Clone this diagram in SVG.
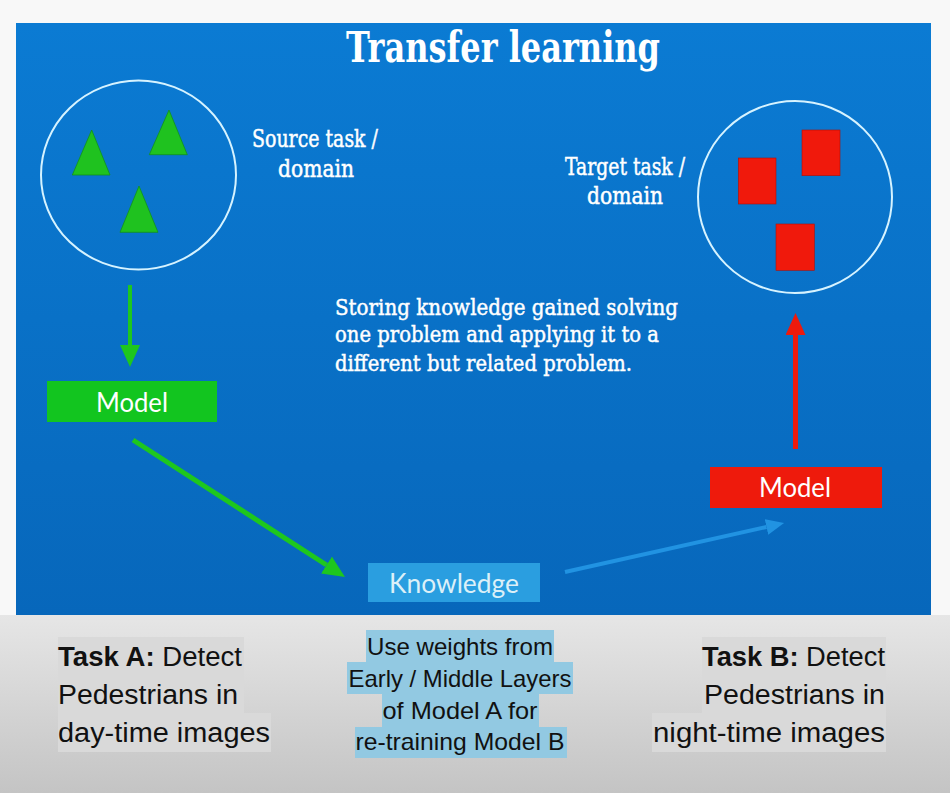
<svg xmlns="http://www.w3.org/2000/svg" width="950" height="793" viewBox="0 0 950 793">
  <defs>
    <linearGradient id="panelFill" x1="0" y1="0" x2="0" y2="1">
      <stop offset="0" stop-color="#0b7bd3"/>
      <stop offset="1" stop-color="#0767bb"/>
    </linearGradient>
    <linearGradient id="floorFill" x1="0" y1="0" x2="0" y2="1">
      <stop offset="0" stop-color="#e6e6e6"/>
      <stop offset="1" stop-color="#c4c4c4"/>
    </linearGradient>
    <marker id="headGreen" markerUnits="userSpaceOnUse" markerWidth="24" markerHeight="22" refX="0" refY="10" orient="auto">
      <path d="M0,0 L22,10 L0,20 z" fill="#1ec71e"/>
    </marker>
    <marker id="headRed" markerUnits="userSpaceOnUse" markerWidth="24" markerHeight="22" refX="0" refY="10" orient="auto">
      <path d="M0,0 L22,10 L0,20 z" fill="#ee1a0c"/>
    </marker>
    <marker id="headBlue" markerUnits="userSpaceOnUse" markerWidth="20" markerHeight="18" refX="0" refY="8" orient="auto">
      <path d="M0,0 L18,8 L0,16 z" fill="#2193e2"/>
    </marker>
    <style>
      .ring { fill: none; stroke: #d6f3ff; stroke-width: 2; }
      .tri { fill: #1fc21f; stroke: #12921a; stroke-width: 0.8; }
      .sq { fill: #f0190c; stroke: #b01008; stroke-width: 0.6; }
      .slab { font-family: "DejaVu Serif", "Liberation Serif", serif; fill: #ffffff; }
      .label, .para { stroke: #ffffff; stroke-width: 0.5; }
      .label { font-size: 24px; }
      .para { font-size: 23px; }
      .box-text { font-family: Lato, "Open Sans", "Liberation Sans", sans-serif; fill: #ffffff; font-size: 27px; }
      .note { font-family: "Liberation Sans Narrow", "Liberation Sans", sans-serif; font-size: 27px; fill: #111111; }
      .mid { font-family: "Liberation Sans Narrow", "Liberation Sans", sans-serif; font-size: 24px; fill: #111111; }
      .hl-grey { fill: #d9d9d9; }
      .hl-blue { fill: #92c9e2; }
      .edge { fill: none; stroke-linecap: butt; }
    </style>
  </defs>

  <!-- backdrop -->
  <rect x="0" y="0" width="950" height="793" fill="#f8f8f8"/>
  <rect x="0" y="615" width="950" height="178" fill="url(#floorFill)"/>
  <rect x="16" y="23" width="915" height="592" fill="url(#panelFill)"/>

  <text class="slab" x="503" y="62" font-size="42" font-weight="bold" text-anchor="middle" textLength="314" lengthAdjust="spacingAndGlyphs">Transfer learning</text>

  <!-- source domain -->
  <g id="source-domain">
    <ellipse class="ring" cx="138.5" cy="175" rx="97.5" ry="94.5"/>
    <polygon class="tri" points="91.7,130 72.3,175 110,175"/>
    <polygon class="tri" points="169,110 149.3,154.7 187.3,154.7"/>
    <polygon class="tri" points="139,186 120,232.3 158,232.3"/>
  </g>
  <g id="source-label">
    <text class="slab label" x="315" y="147" text-anchor="middle" textLength="126" lengthAdjust="spacingAndGlyphs">Source task /</text>
    <text class="slab label" x="316" y="177" text-anchor="middle" textLength="76" lengthAdjust="spacingAndGlyphs">domain</text>
  </g>

  <!-- target domain -->
  <g id="target-domain">
    <ellipse class="ring" cx="795" cy="197" rx="97" ry="96"/>
    <rect class="sq" x="738.3" y="158" width="37.7" height="46"/>
    <rect class="sq" x="802" y="130" width="38" height="45.7"/>
    <rect class="sq" x="776" y="224" width="38.3" height="46.3"/>
  </g>
  <g id="target-label">
    <text class="slab label" x="625" y="175" text-anchor="middle" textLength="120" lengthAdjust="spacingAndGlyphs">Target task /</text>
    <text class="slab label" x="625" y="204" text-anchor="middle" textLength="76" lengthAdjust="spacingAndGlyphs">domain</text>
  </g>

  <!-- description -->
  <g id="description">
    <text class="slab para" x="335" y="315" textLength="343" lengthAdjust="spacingAndGlyphs">Storing knowledge gained solving</text>
    <text class="slab para" x="335" y="342" textLength="324" lengthAdjust="spacingAndGlyphs">one problem and applying it to a</text>
    <text class="slab para" x="335" y="371" textLength="297" lengthAdjust="spacingAndGlyphs">different but related problem.</text>
  </g>

  <!-- models and knowledge -->
  <g id="model-a">
    <rect x="47" y="381" width="170" height="41" fill="#12c51f"/>
    <text class="box-text" x="132" y="412" text-anchor="middle" textLength="72" lengthAdjust="spacingAndGlyphs">Model</text>
  </g>
  <g id="knowledge">
    <rect x="368" y="563" width="172" height="39" fill="#2a9ee0"/>
    <text class="box-text" x="454" y="593" text-anchor="middle" style="fill:#dcf0f8" textLength="130" lengthAdjust="spacingAndGlyphs">Knowledge</text>
  </g>
  <g id="model-b">
    <rect x="710" y="467" width="172" height="41" fill="#ee1a0c"/>
    <text class="box-text" x="795" y="497" text-anchor="middle" textLength="72" lengthAdjust="spacingAndGlyphs">Model</text>
  </g>

  <!-- connectors -->
  <g id="connectors">
    <line class="edge" x1="130" y1="285" x2="130" y2="345" stroke="#1ec71e" stroke-width="4" marker-end="url(#headGreen)"/>
    <line class="edge" x1="133" y1="440" x2="326.5" y2="565" stroke="#1ec71e" stroke-width="5" marker-end="url(#headGreen)"/>
    <line class="edge" x1="565" y1="572" x2="766.5" y2="527" stroke="#2193e2" stroke-width="4" marker-end="url(#headBlue)"/>
    <line class="edge" x1="795.5" y1="449" x2="795.5" y2="335" stroke="#ee1a0c" stroke-width="5" marker-end="url(#headRed)"/>
  </g>

  <!-- captions below the slide -->
  <g id="task-a">
    <rect class="hl-grey" x="58" y="637" width="186" height="76"/>
    <rect class="hl-grey" x="58" y="713" width="213" height="39"/>
    <text class="note" x="58" y="666" textLength="184" lengthAdjust="spacingAndGlyphs"><tspan font-weight="bold">Task A:</tspan> Detect</text>
    <text class="note" x="58" y="704" textLength="180" lengthAdjust="spacingAndGlyphs">Pedestrians in</text>
    <text class="note" x="58" y="742" textLength="212" lengthAdjust="spacingAndGlyphs">day-time images</text>
  </g>
  <g id="transfer-note">
    <rect class="hl-blue" x="366" y="630" width="188" height="32"/>
    <rect class="hl-blue" x="347" y="662" width="226" height="32"/>
    <rect class="hl-blue" x="382" y="694" width="157" height="33"/>
    <rect class="hl-blue" x="355" y="727" width="212" height="31"/>
    <text class="mid" x="460" y="655" text-anchor="middle" textLength="186" lengthAdjust="spacingAndGlyphs">Use weights from</text>
    <text class="mid" x="460" y="687" text-anchor="middle" textLength="223" lengthAdjust="spacingAndGlyphs">Early / Middle Layers</text>
    <text class="mid" x="460" y="719" text-anchor="middle" textLength="155" lengthAdjust="spacingAndGlyphs">of Model A for</text>
    <text class="mid" x="460" y="750" text-anchor="middle" textLength="209" lengthAdjust="spacingAndGlyphs">re-training Model B</text>
  </g>
  <g id="task-b">
    <rect class="hl-grey" x="702" y="637" width="184" height="76"/>
    <rect class="hl-grey" x="652" y="713" width="234" height="39"/>
    <text class="note" x="885" y="666" text-anchor="end" textLength="183" lengthAdjust="spacingAndGlyphs"><tspan font-weight="bold">Task B:</tspan> Detect</text>
    <text class="note" x="885" y="704" text-anchor="end" textLength="181" lengthAdjust="spacingAndGlyphs">Pedestrians in</text>
    <text class="note" x="885" y="742" text-anchor="end" textLength="232" lengthAdjust="spacingAndGlyphs">night-time images</text>
  </g>
</svg>
